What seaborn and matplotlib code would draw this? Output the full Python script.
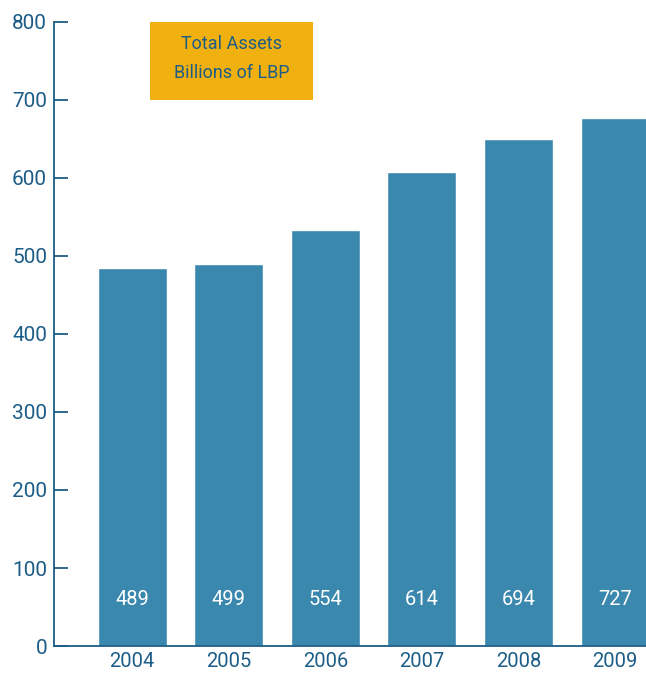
import matplotlib
matplotlib.use("Agg")
import matplotlib.pyplot as plt
import seaborn as sns
import pandas as pd
from matplotlib.patches import Rectangle

years = ["2004", "2005", "2006", "2007", "2008", "2009"]
bar_heights = [485, 490, 533, 608, 650, 677]
bar_labels = ["489", "499", "554", "614", "694", "727"]
y_ticks = [0, 100, 200, 300, 400, 500, 600, 700, 800]

bar_color = "#3a88ad"
text_color = "#1c5d87"
box_color = "#f0b00f"

sns.set_style("white")
plt.rcParams["font.family"] = ["Roboto", "DejaVu Sans"]

df = pd.DataFrame({"year": years, "assets": bar_heights})

fig = plt.figure(figsize=(6.46, 6.74), dpi=100)
ax = fig.add_axes([0.0836, 0.0415, 0.9164, 0.926])

sns.barplot(data=df, x="year", y="assets", color=bar_color, saturation=1,
            width=0.714, ax=ax)

# value labels near the bottom of each bar
for i, lab in enumerate(bar_labels):
    ax.text(i, 59, lab, ha="center", va="center", color="white", fontsize=14.5)

ax.set_xlim(-0.81, 5.32)
ax.set_ylim(0, 800)
ax.set_yticks(y_ticks)
ax.set_xlabel("")
ax.set_ylabel("")

for side in ["top", "right"]:
    ax.spines[side].set_visible(False)
for side in ["left", "bottom"]:
    ax.spines[side].set_color(text_color)
    ax.spines[side].set_linewidth(1.3)

ax.tick_params(axis="y", left=True, direction="in", length=10, width=1.3,
               color=text_color, labelcolor=text_color, labelsize=15, pad=5)
ax.tick_params(axis="x", bottom=False, length=0, labelcolor=text_color,
               labelsize=14.5, pad=4)

# title box
fig.patches.append(Rectangle((0.232, 0.8516), 0.252, 0.1157, transform=fig.transFigure,
                             facecolor=box_color, edgecolor="none"))
fig.text(0.358, 0.934, "Total Assets", ha="center", va="center",
         color=text_color, fontsize=13)
fig.text(0.358, 0.891, "Billions of LBP", ha="center", va="center",
         color=text_color, fontsize=13)

fig.savefig("out.png", dpi=100)
